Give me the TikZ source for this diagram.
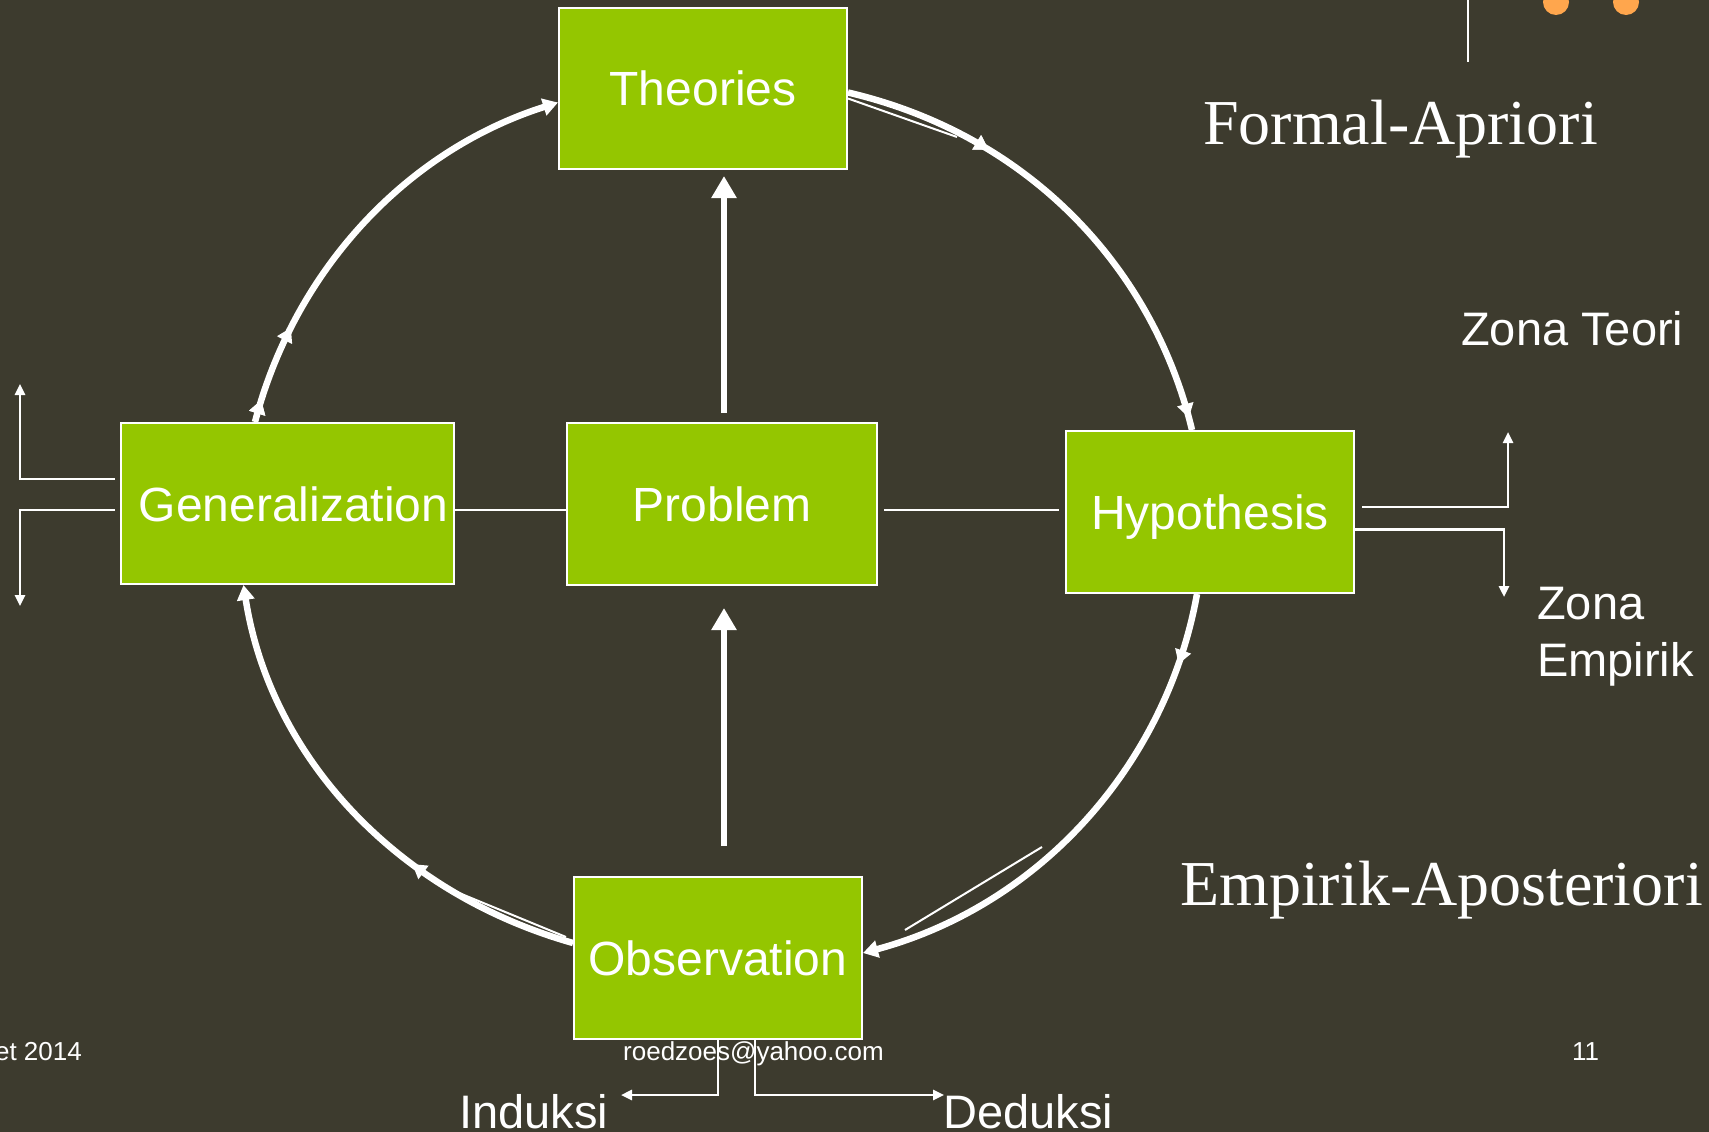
\documentclass[tikz,border=0pt]{standalone}
\usepackage{fontspec}
\setmainfont{Liberation Sans}
\newfontfamily\apfont{Liberation Serif}
\usetikzlibrary{arrows.meta,calc,decorations.markings}
\definecolor{slidebg}{RGB}{61,59,46}
\definecolor{boxgreen}{RGB}{148,198,0}
\definecolor{dotorange}{RGB}{255,166,77}

\begin{document}
\begin{tikzpicture}[x=1pt,y=-1pt,white,>={Triangle[width=17pt,length=15pt]}]
  \tikzstyle{stage}=[draw=white,line width=2pt,fill=boxgreen,inner sep=0pt,minimum width=288pt,minimum height=162pt,text height=35pt,text depth=0pt,font=\fontsize{48}{56}\selectfont]
  \tikzstyle{loopline}=[line width=6.5pt,->,postaction={decorate}]
  \tikzstyle{push}=[line width=6.5pt,-{Triangle[width=24pt,length=22pt]}]
  \tikzstyle{link}=[line width=2pt]
  \tikzstyle{zonearr}=[line width=2.5pt,-{Triangle[width=10pt,length=11pt]}]
  \tikzstyle{bigword}=[font=\apfont\fontsize{64}{70}\selectfont,anchor=base west,inner sep=0pt]
  \tikzstyle{zoneword}=[font=\fontsize{47}{57}\selectfont,anchor=base west,inner sep=0pt,align=left]
  \tikzstyle{foot}=[font=\fontsize{26}{30}\selectfont,anchor=base west,inner sep=0pt]
  \tikzset{tips/.style={decoration={markings,mark=at position #1 with {\arrow{Triangle[width=16pt,length=14pt]}}}}}

  \fill[slidebg] (0,0) rectangle (1709,1132);
  \useasboundingbox (0,0) rectangle (1709,1132);

  % corner decoration
  \draw[line width=2.5pt] (1468,0) -- (1468,62);
  \fill[dotorange] (1556,2) circle[radius=13];
  \fill[dotorange] (1626,2) circle[radius=13];

  % footer
  \node[foot,anchor=base east] (date) at (82,1060) {et 2014};
  \node[foot] (mail) at (623,1060) {roedzoes@yahoo.com};
  \node[foot] (page) at (1572,1060) {11};

  % stages
  \node[stage,minimum height=161pt] (theo) at (703,88.5) {Theories};
  \node[stage,minimum width=310pt] (prob) at (722,504) {Problem};
  \node[stage,minimum width=333pt,minimum height=161pt] (gen) at (287.5,503.5) {\hspace*{12pt}Generalization};
  \node[stage] (hyp) at (1210,512) {Hypothesis};
  \node[stage] (obs) at (718,958) {Observation};

  % side texts
  \node[bigword] (apriori) at (1203,144) {Formal-Apriori};
  \node[bigword] (aposteriori) at (1180,905) {Empirik-Aposteriori};
  \node[zoneword] (teori) at (1461,345) {Zona Teori};
  \node[zoneword] (empirik) at (1537,676) {Zona\\Empirik};
  \node[zoneword] (induksi) at (459,1128) {Induksi};
  \node[zoneword] (deduksi) at (943,1128) {Deduksi};

  % the cycle
  \draw[loopline,tips=0.05,postaction={decorate,tips=0.22}]
    ($(gen.north west)+(135,0)$) .. controls +(38,-146) and +(-157,50) .. ($(theo.west)+(0,14)$);
  \draw[loopline,-,tips=0.3,postaction={decorate,tips=0.975}]
    ($(theo.east)+(0,4)$) .. controls +(180,42) and +(-39,-163) .. ($(hyp.north)+(-18,0)$);
  \draw[loopline,tips=0.14]
    ($(hyp.south)+(-13,0)$) .. controls +(-30,167) and +(181,-49) .. ($(obs.east)+(0,-5)$);
  \draw[loopline,tips=0.35]
    ($(obs.west)+(0,-15)$) .. controls +(-180,-51) and +(26,168) .. ($(gen.south)+(-44,0)$);
  \coordinate (t2) at (957,137);
  \coordinate (t3) at (1042,847);
  \coordinate (t4) at (447,888);
  \draw[link] ($(theo.east)+(0,10)$) -- (t2);
  \draw[link] ($(obs.east)+(42,-28)$) -- (t3);
  \draw[link] ($(obs.west)+(-7,-21)$) -- (t4);

  % centre arrows and lines
  \draw[push] ($(prob.north)+(2,-9)$) -- ($(prob.north |- theo.south)+(2,6)$);
  \draw[push] ($(obs.north)+(6,-30)$) -- ($(prob.south)+(2,22)$);
  \draw[link] ($(gen.east)+(0,6.5)$) -- ($(prob.west)+(0,6)$);
  \draw[link] ($(prob.east)+(6,6)$) -- ($(hyp.west)+(-6,-2)$);

  % zone arrows
  \coordinate (lup) at (20,384);
  \coordinate (ldown) at (20,606);
  \coordinate (rup) at (1508,432);
  \coordinate (rdown) at (1504,597);
  \coordinate (ind) at (621,1095);
  \coordinate (ded) at (944,1095);
  \draw[zonearr] ($(gen.west)+(-5,-24.5)$) -| (lup);
  \draw[zonearr] ($(gen.west)+(-5,6.5)$) -| (ldown);
  \draw[zonearr] ($(hyp.east)+(7,-5)$) -| (rup);
  \draw[zonearr] ($(hyp.east)+(0,17.5)$) -| (rdown);
  \draw[zonearr] (obs.south) |- (ind);
  \draw[zonearr] ($(obs.south)+(37,0)$) |- (ded);
\end{tikzpicture}
\end{document}
